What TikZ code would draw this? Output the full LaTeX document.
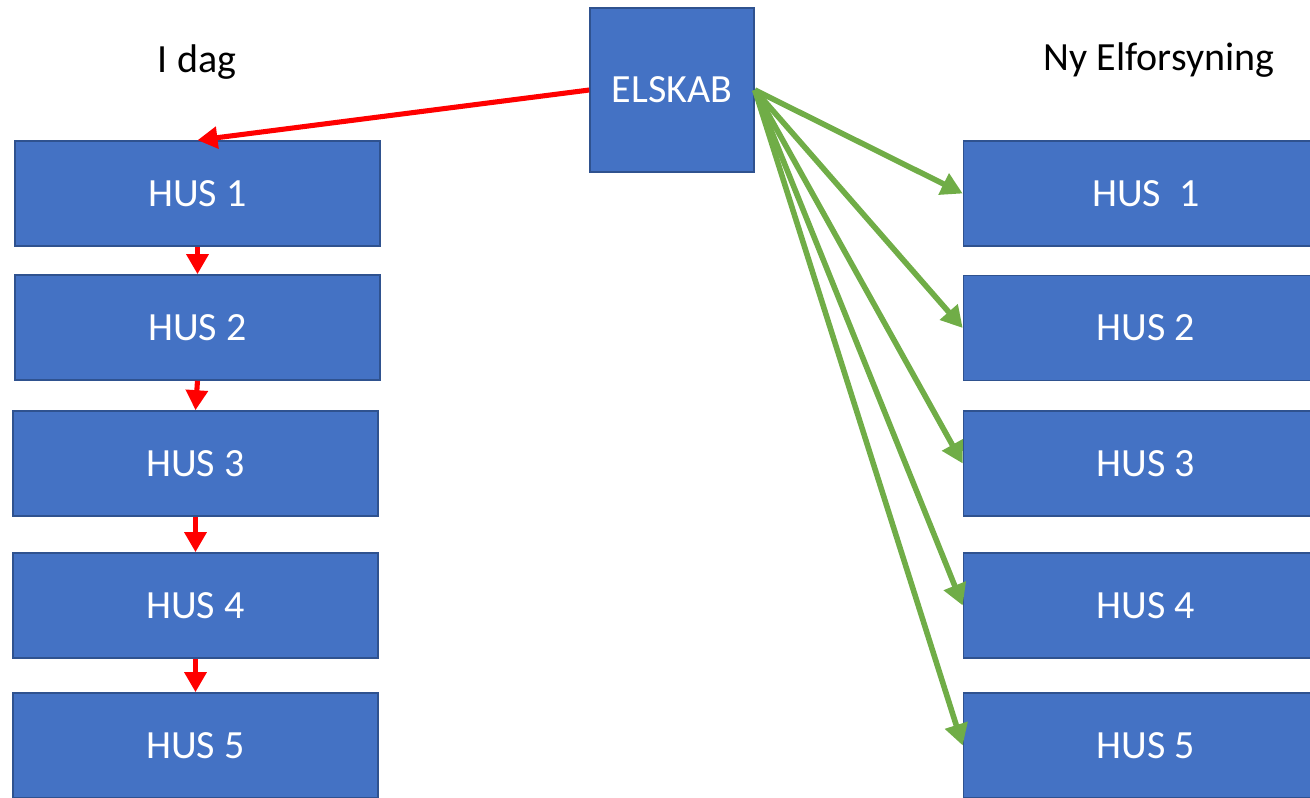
\documentclass[tikz,border=0pt]{standalone}
\usepackage{fontspec}
\setmainfont{Carlito}
\usetikzlibrary{arrows.meta}
\definecolor{husblue}{HTML}{4472C4}
\definecolor{husedge}{HTML}{2F528F}
\definecolor{newgreen}{HTML}{70AD47}
\tikzset{
  husbox/.style={draw=husedge, line width=1.2pt, fill=husblue, text=white,
    minimum width=273.75pt, minimum height=78.75pt, inner sep=0pt,
    font=\fontsize{30}{36}\selectfont},
  oldline/.style={draw=red, line width=3.8pt,
    -{Triangle[length=15pt, width=16pt]}},
  newline/.style={draw=newgreen, line width=4.2pt,
    -{Triangle[length=16pt, width=17pt]}},
  headline/.style={font=\fontsize{30}{36}\selectfont}
}

\begin{document}
\begin{tikzpicture}[x=0.75pt, y=-0.75pt]
  \useasboundingbox (0, 0) rectangle (1310, 797);
  \clip (0, 0) rectangle (1310, 797);
  % headings
  \node[headline] (today) at (197, 62) {I dag};
  \node[headline] (future) at (1159, 60) {Ny Elforsyning};
  % the cabinet
  \node[husbox, minimum width=123pt, minimum height=123pt] (E) at (672, 90) {ELSKAB};
  % houses, today
  \node[husbox] (L1) at (197.5, 193.5) {HUS 1};
  \node[husbox] (L2) at (197.5, 327.5) {HUS 2};
  \node[husbox] (L3) at (195.5, 463.5) {HUS 3};
  \node[husbox] (L4) at (195.5, 605.5) {HUS 4};
  \node[husbox] (L5) at (195.5, 745.5) {HUS 5};
  % houses, new supply
  \node[husbox] (R1) at (1146, 193.5) {HUS\ \ 1};
  \node[husbox] (R2) at (1146, 328) {HUS 2};
  \node[husbox] (R3) at (1146, 463.5) {HUS 3};
  \node[husbox] (R4) at (1146, 605.5) {HUS 4};
  \node[husbox] (R5) at (1146, 745.5) {HUS 5};
  % chain today
  \draw[oldline] (E.west) -- (L1.north);
  \foreach \a/\b in {1/2, 2/3, 3/4, 4/5}
    \draw[oldline] (L\a.south) -- (L\b.north);
  % one line per house
  \foreach \i in {1,...,5}
    \draw[newline] (E.east) -- (R\i.west);
\end{tikzpicture}
\end{document}
